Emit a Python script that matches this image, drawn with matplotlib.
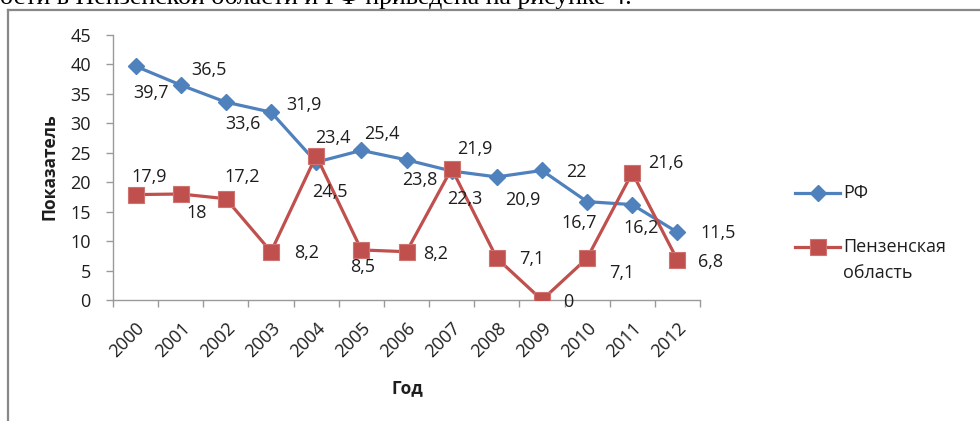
import matplotlib
matplotlib.use("Agg")
import matplotlib.pyplot as plt
from matplotlib.lines import Line2D

years = [str(y) for y in range(2000, 2013)]
rf = [39.7, 36.5, 33.6, 31.9, 23.4, 25.4, 23.8, 21.9, 20.9, 22, 16.7, 16.2, 11.5]
penza = [17.9, 18, 17.2, 8.2, 24.5, 8.5, 8.2, 22.3, 7.1, 0, 7.1, 21.6, 6.8]
yticks = [0, 5, 10, 15, 20, 25, 30, 35, 40, 45]

# label offsets in pixels (dx right, dy down)
rf_off = [(15, 27), (28, -15), (17, 22), (33, -7), (17, -24), (21, -16), (13, 20),
          (23, -22), (26, 23), (34, 2), (-8, 21), (9, 23), (41, 1)]
pz_off = [(14, -18), (16, 19), (16, -22), (36, 1), (14, 36), (1, 17), (29, 2),
          (13, 30), (35, 1), (26, 2), (35, 15), (34, -10), (33, 2)]

BLUE = "#4F81BD"
RED = "#C0504D"
TXT = "#1e1e1e"
GREY = "#9a9a9a"
FS = 13

W, H = 980, 421
plt.rcParams['font.family'] = ['Open Sans', 'Noto Sans', 'DejaVu Sans']

fig = plt.figure(figsize=(W / 100, H / 100), dpi=100)


def fx(px):
    return px / W


def fy(py):
    return 1 - py / H


# page fragment above the chart frame
fig.text(0, fy(4), "ости в Пензенской области и РФ приведена на рисунке 4.",
         family=['Liberation Serif', 'DejaVu Serif'], fontsize=18.7, va='baseline', color='black')
fig.add_artist(Line2D([fx(8), 1], [fy(10), fy(10)], color='#888888', lw=1.6))
fig.add_artist(Line2D([fx(8), fx(8)], [0, fy(10)], color='#888888', lw=1.6))

ax = fig.add_axes([fx(113), fy(300), fx(700) - fx(113), fy(35) - fy(300)])
x = list(range(len(years)))
ax.plot(x, rf, color=BLUE, lw=2.3, marker='D', ms=8, mfc=BLUE, mec=BLUE, zorder=3)
ax.plot(x, penza, color=RED, lw=2.3, marker='s', ms=11, mfc=RED, mec='#d07270', mew=0.8, zorder=4)

for i, v in enumerate(rf):
    ax.annotate(f"{v:g}".replace('.', ','), (i, v), xytext=(rf_off[i][0], -rf_off[i][1]),
                textcoords='offset pixels', ha='center', va='center', fontsize=FS, color=TXT, zorder=5)
for i, v in enumerate(penza):
    ax.annotate(f"{v:g}".replace('.', ','), (i, v), xytext=(pz_off[i][0], -pz_off[i][1]),
                textcoords='offset pixels', ha='center', va='center', fontsize=FS, color=TXT, zorder=5)

ax.set_xlim(-0.5, len(years) - 0.5)
ax.set_ylim(0, 45)
ax.set_yticks(yticks)
ax.set_yticklabels([str(t) for t in yticks])
ax.set_xticks([i - 0.5 for i in range(len(years) + 1)])
ax.set_xticklabels([])
ax.set_xticks(x, minor=True)
ax.set_xticklabels(years, minor=True, rotation=45, ha='right', va='top', rotation_mode='anchor')
ax.tick_params(axis='x', which='major', direction='out', length=5, color=GREY, width=1)
ax.tick_params(axis='x', which='minor', length=0, labelsize=FS, labelcolor=TXT, pad=14)
ax.tick_params(axis='y', direction='out', length=5, color=GREY, width=1, labelsize=FS, labelcolor=TXT, pad=11)
for s in ['top', 'right']:
    ax.spines[s].set_visible(False)
for s in ['left', 'bottom']:
    ax.spines[s].set_color(GREY)
    ax.spines[s].set_linewidth(1)
ax.patch.set_alpha(0)

fig.text(fx(50), fy(167), "Показатель", rotation=90, fontsize=12.5, fontweight='bold',
         ha='center', va='center', color=TXT)
fig.text(fx(407), fy(388), "Год", fontsize=12.5, fontweight='bold', ha='center', va='center', color=TXT)

# legend
fig.add_artist(Line2D([fx(795), fx(840)], [fy(193), fy(193)], color=BLUE, lw=2.3))
fig.add_artist(Line2D([fx(817.5)], [fy(193)], color=BLUE, marker='D', ms=8))
fig.text(fx(843), fy(193), "РФ", fontsize=FS, va='center', color=TXT)
fig.add_artist(Line2D([fx(795), fx(840)], [fy(247), fy(247)], color=RED, lw=2.3))
fig.add_artist(Line2D([fx(817.5)], [fy(247)], color=RED, marker='s', ms=11, mec='#d07270', mew=0.8))
fig.text(fx(843), fy(247), "Пензенская", fontsize=FS, va='center', color=TXT)
fig.text(fx(843), fy(273), "область", fontsize=FS, va='center', color=TXT)

fig.savefig("out.png", dpi=100)
